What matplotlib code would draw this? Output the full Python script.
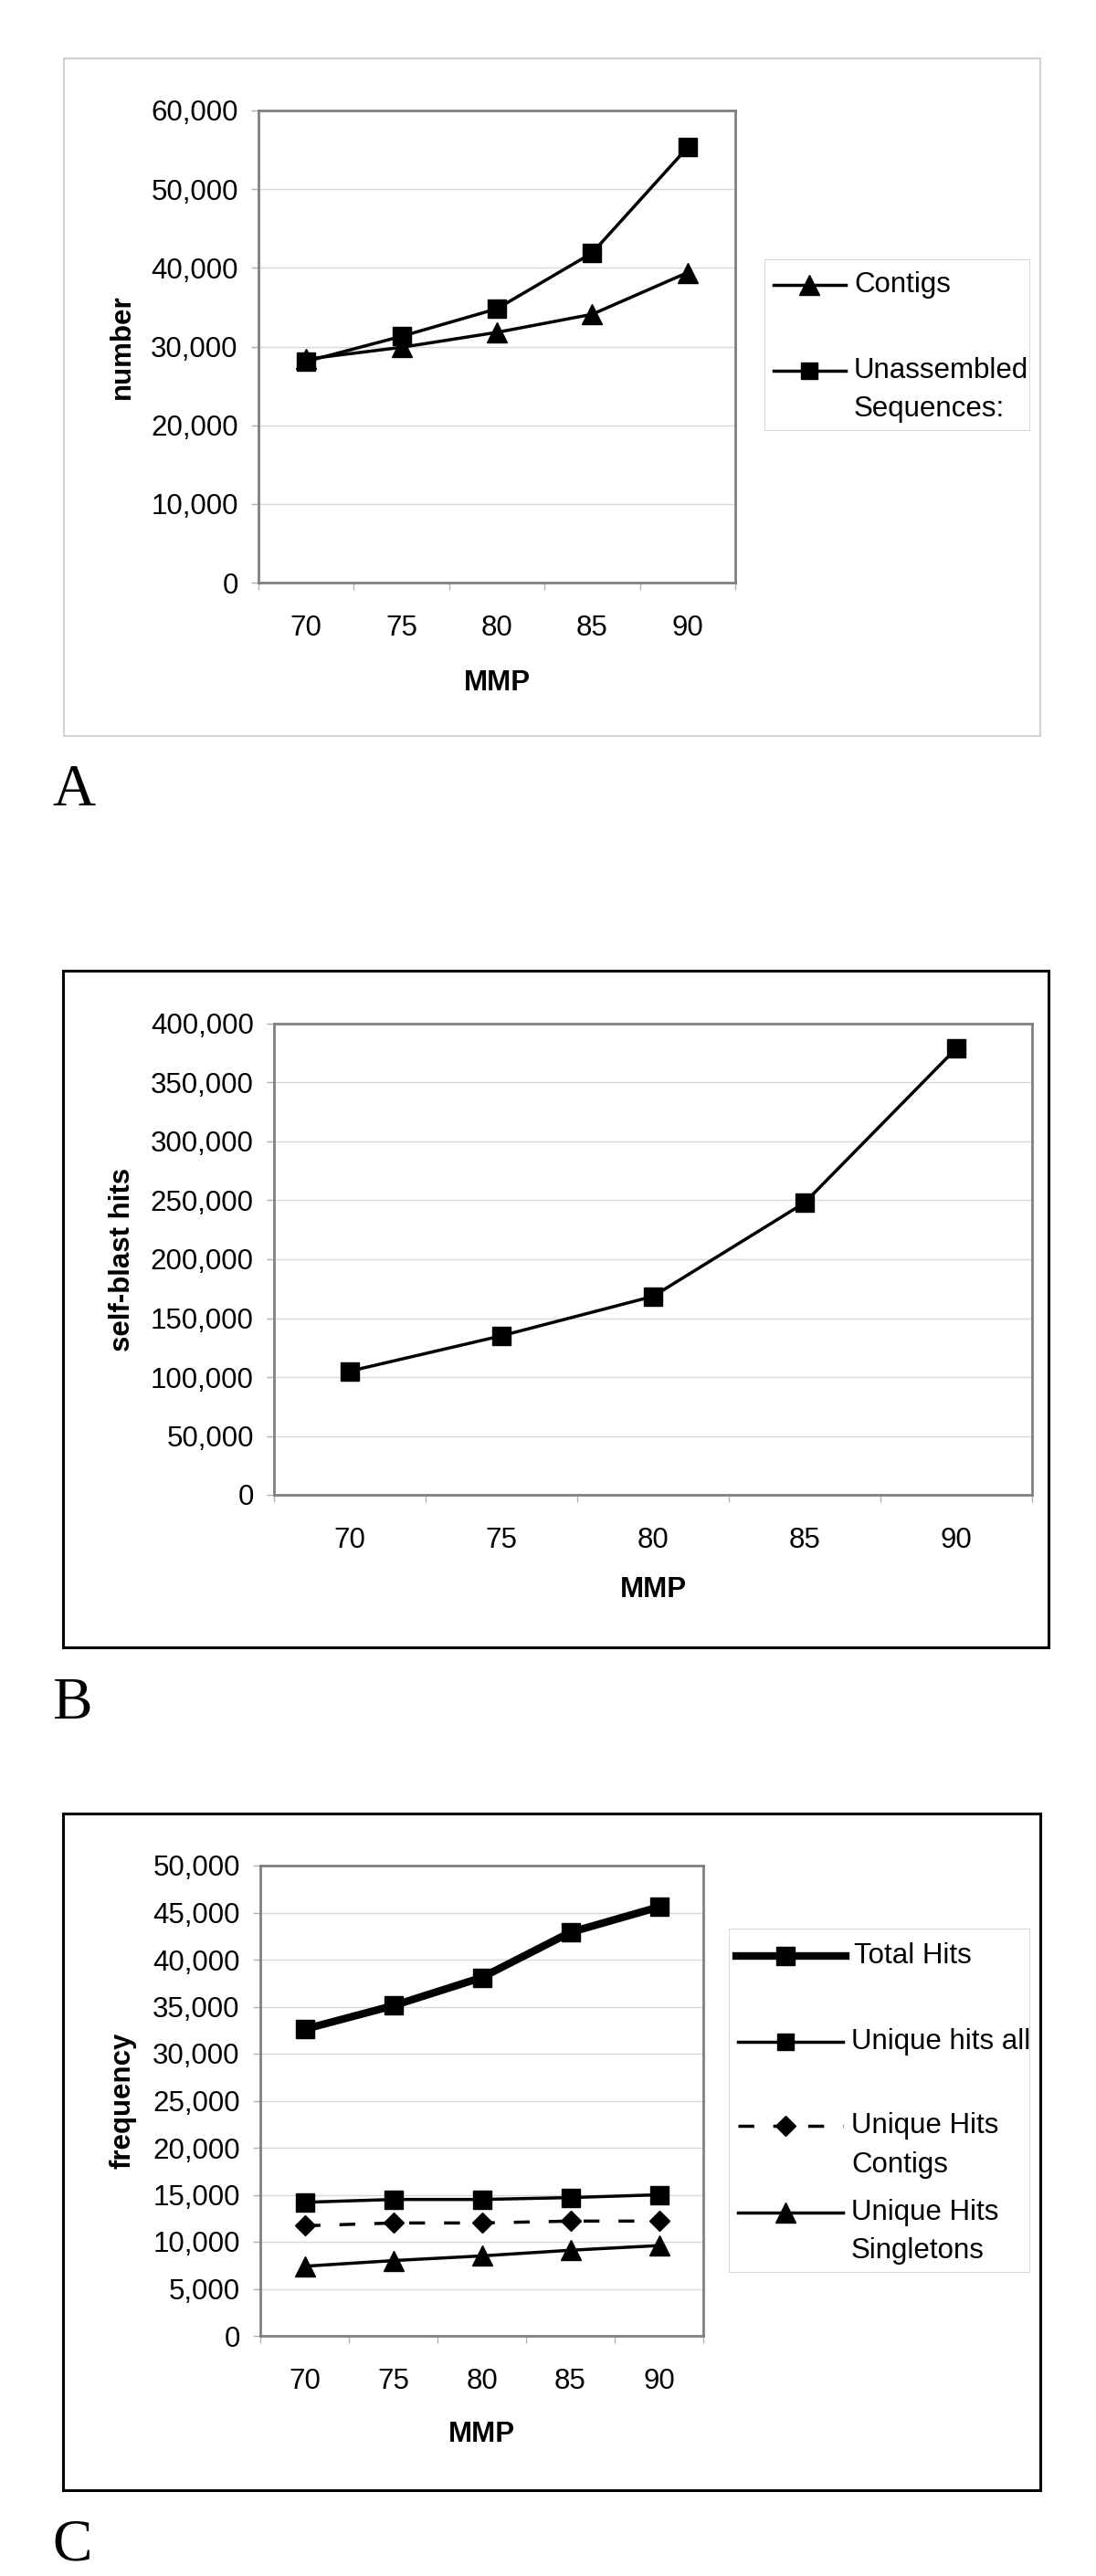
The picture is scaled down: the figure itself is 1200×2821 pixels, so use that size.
import matplotlib
matplotlib.use("Agg")
import matplotlib.pyplot as plt
from matplotlib.patches import Rectangle
from matplotlib.lines import Line2D
from matplotlib.ticker import FuncFormatter, FixedLocator

plt.rcParams['font.family'] = ['Liberation Sans', 'DejaVu Sans']

# ---------------- data ----------------
mmp = ['70', '75', '80', '85', '90']

a_contigs = [28400, 29900, 31800, 34100, 39400]
a_unassembled = [28100, 31300, 34800, 41900, 55300]

b_selfblast = [105000, 135000, 168500, 248000, 379000]

c_total = [32600, 35100, 38100, 42900, 45600]
c_unique_all = [14200, 14500, 14500, 14700, 15000]
c_unique_contigs = [11700, 12000, 12000, 12200, 12200]
c_unique_singletons = [7400, 8000, 8500, 9100, 9600]

a_ticks = [0, 10000, 20000, 30000, 40000, 50000, 60000]
b_ticks = [0, 50000, 100000, 150000, 200000, 250000, 300000, 350000, 400000]
c_ticks = [0, 5000, 10000, 15000, 20000, 25000, 30000, 35000, 40000, 45000, 50000]

# ---------------- layout helpers ----------------
W, H = 1200, 2821
fig = plt.figure(figsize=(W / 100, H / 100), dpi=100)


def rect(l, t, r, b):
    return [l / W, 1 - b / H, (r - l) / W, (b - t) / H]


def outer_box(l, t, r, b, color, lw):
    fig.patches.append(Rectangle((l / W, 1 - b / H), (r - l) / W, (b - t) / H,
                                 transform=fig.transFigure, fill=False,
                                 edgecolor=color, linewidth=lw, zorder=0))


FS = 22.5
LW = 2.5
fmt = FuncFormatter(lambda v, p: f"{v:,.0f}")


def style_axes(ax, ticks, ylabel, ylab_x, xlab_y):
    x = list(range(len(mmp)))
    ax.set_xlim(-0.5, len(mmp) - 0.5)
    ax.set_ylim(ticks[0], ticks[-1])
    ax.set_xticks(x)
    ax.set_xticklabels(mmp)
    ax.xaxis.set_minor_locator(FixedLocator([i - 0.5 for i in range(len(mmp) + 1)]))
    ax.set_yticks(ticks)
    ax.yaxis.set_major_formatter(fmt)
    ax.tick_params(axis='x', which='major', length=0, pad=25, labelsize=FS)
    ax.tick_params(axis='x', which='minor', length=6, width=1, color='#b0b0b0')
    ax.tick_params(axis='y', which='major', length=6, width=1, color='#b0b0b0',
                   pad=10, labelsize=FS)
    for s in ax.spines.values():
        s.set_color('#808080')
        s.set_linewidth(2.0)
    ax.yaxis.grid(True, color='#d8d8d8', linewidth=1.0)
    ax.set_axisbelow(True)
    ax.set_ylabel(ylabel, fontsize=FS, fontweight='bold', va='center')
    ax.yaxis.set_label_coords(ylab_x, 0.5)
    ax.set_xlabel('MMP', fontsize=FS, fontweight='bold', va='center')
    ax.xaxis.set_label_coords(0.5, xlab_y)
    return x


def legend_box(l, t, r, b, entries):
    lax = fig.add_axes(rect(l, t, r, b))
    lax.set_xlim(0, r - l)
    lax.set_ylim(b - t, 0)
    lax.axis('off')
    lax.add_patch(Rectangle((0, 0), r - l, b - t, fill=False,
                            edgecolor='#d0d0d0', linewidth=1.2))
    for (x0, x1, xm, ys, lw, ls, marker, ms, lines) in entries:
        lax.add_line(Line2D([x0, x1], [ys[0], ys[0]], color='black', lw=lw, ls=ls))
        lax.add_line(Line2D([xm], [ys[0]], color='black', marker=marker, ms=ms, lw=0))
        for txt, y in zip(lines, ys):
            lax.text(x1 + 9, y, txt, fontsize=FS, va='center', ha='left')
    return lax


# ================= Panel A =================
outer_box(70, 64, 1139, 806, '#c8c8c8', 1.2)
axA = fig.add_axes(rect(283, 121, 805, 638))
xA = style_axes(axA, a_ticks, 'number', -0.285, -0.213)
axA.plot(xA, a_contigs, color='black', lw=LW, marker='^', ms=16, zorder=3)
axA.plot(xA, a_unassembled, color='black', lw=LW, marker='s', ms=14, zorder=3)
legend_box(837, 284, 1128, 472, [
    (10, 89, 49, [28], LW, '-', '^', 16, ['Contigs']),
    (10, 89, 49, [122, 164], LW, '-', 's', 13, ['Unassembled', 'Sequences:']),
])
fig.text(57 / W, 1 - 882 / H, 'A', family=['Liberation Serif', 'DejaVu Serif'],
         fontsize=47, va='baseline', ha='left')

# ================= Panel B =================
outer_box(69, 1063, 1148, 1804, 'black', 2.2)
axB = fig.add_axes(rect(300, 1121, 1130, 1637))
xB = style_axes(axB, b_ticks, 'self-blast hits', -0.2, -0.2016)
axB.plot(xB, b_selfblast, color='black', lw=LW, marker='s', ms=14, zorder=3)
fig.text(57 / W, 1 - 1882 / H, 'B', family=['Liberation Serif', 'DejaVu Serif'],
         fontsize=47, va='baseline', ha='left')

# ================= Panel C =================
outer_box(69, 1986, 1139, 2727, 'black', 2.2)
axC = fig.add_axes(rect(285, 2043, 770, 2558))
xC = style_axes(axC, c_ticks, 'frequency', -0.311, -0.2097)
dash = (0, (5, 6))
axC.plot(xC, c_total, color='black', lw=6.0, marker='s', ms=15, zorder=3)
axC.plot(xC, c_unique_all, color='black', lw=LW, marker='s', ms=14, zorder=3)
axC.plot(xC, c_unique_contigs, color='black', lw=LW, ls=dash, marker='D', ms=11, zorder=3)
axC.plot(xC, c_unique_singletons, color='black', lw=LW, marker='^', ms=16, zorder=3)
legend_box(798, 2112, 1128, 2489, [
    (8, 128, 62, [30], 6.0, '-', 's', 14, ['Total Hits']),
    (10, 125, 62, [124], LW, '-', 's', 13, ['Unique hits all']),
    (10, 125, 62, [216, 259], LW, dash, 'D', 11, ['Unique Hits', 'Contigs']),
    (10, 125, 62, [311, 353], LW, '-', '^', 16, ['Unique Hits', 'Singletons']),
])
fig.text(57 / W, 1 - 2803 / H, 'C', family=['Liberation Serif', 'DejaVu Serif'],
         fontsize=47, va='baseline', ha='left')

fig.savefig('out.png', dpi=100, facecolor='white')
